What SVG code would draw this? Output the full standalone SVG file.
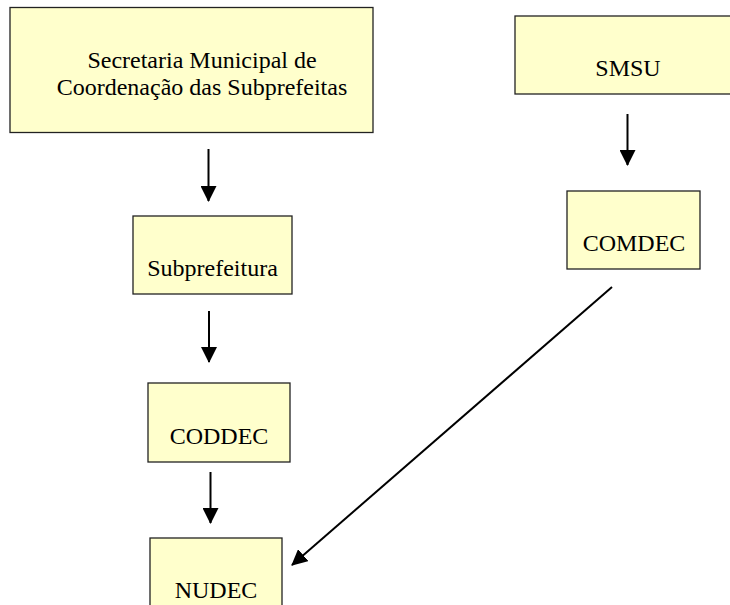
<svg xmlns="http://www.w3.org/2000/svg" width="730" height="605" viewBox="0 0 730 605">
<style>
.box{fill:#ffffcc;stroke:#222;stroke-width:1.3}
.lbl{font-family:"Liberation Serif","Times New Roman",serif;font-size:24px;fill:#000;text-anchor:middle}
.conn{stroke:#000;stroke-width:2;fill:none;marker-end:url(#ah)}
</style>
<defs>
<marker id="ah" markerUnits="userSpaceOnUse" markerWidth="16" markerHeight="16" refX="15" refY="8" orient="auto" viewBox="0 0 16 16">
<path d="M0,0 L16,8 L0,16 z" fill="#000"/>
</marker>
</defs>
<rect width="730" height="605" fill="#fff"/>
<g id="secretaria">
<rect class="box" x="10" y="7.5" width="363" height="125"/>
<text class="lbl" x="202" y="68">Secretaria Municipal de</text>
<text class="lbl" x="202" y="95">Coordenação das Subprefeitas</text>
</g>
<g id="smsu">
<rect class="box" x="515" y="16" width="230" height="78"/>
<text class="lbl" x="628" y="76">SMSU</text>
</g>
<g id="subprefeitura">
<rect class="box" x="133" y="216" width="159" height="78"/>
<text class="lbl" x="212.5" y="276">Subprefeitura</text>
</g>
<g id="comdec">
<rect class="box" x="567" y="191" width="133" height="78"/>
<text class="lbl" x="634" y="251">COMDEC</text>
</g>
<g id="coddec">
<rect class="box" x="148" y="383" width="142" height="79"/>
<text class="lbl" x="219" y="444">CODDEC</text>
</g>
<g id="nudec">
<rect class="box" x="150" y="538" width="132" height="80"/>
<text class="lbl" x="216" y="598">NUDEC</text>
</g>
<g id="connectors">
<line class="conn" x1="208.5" y1="149" x2="208.5" y2="201"/>
<line class="conn" x1="209" y1="311" x2="209" y2="362"/>
<line class="conn" x1="210.5" y1="472" x2="210.5" y2="523"/>
<line class="conn" x1="627.5" y1="114" x2="627.5" y2="165"/>
<line class="conn" x1="612" y1="287" x2="292" y2="565"/>
</g>
</svg>
